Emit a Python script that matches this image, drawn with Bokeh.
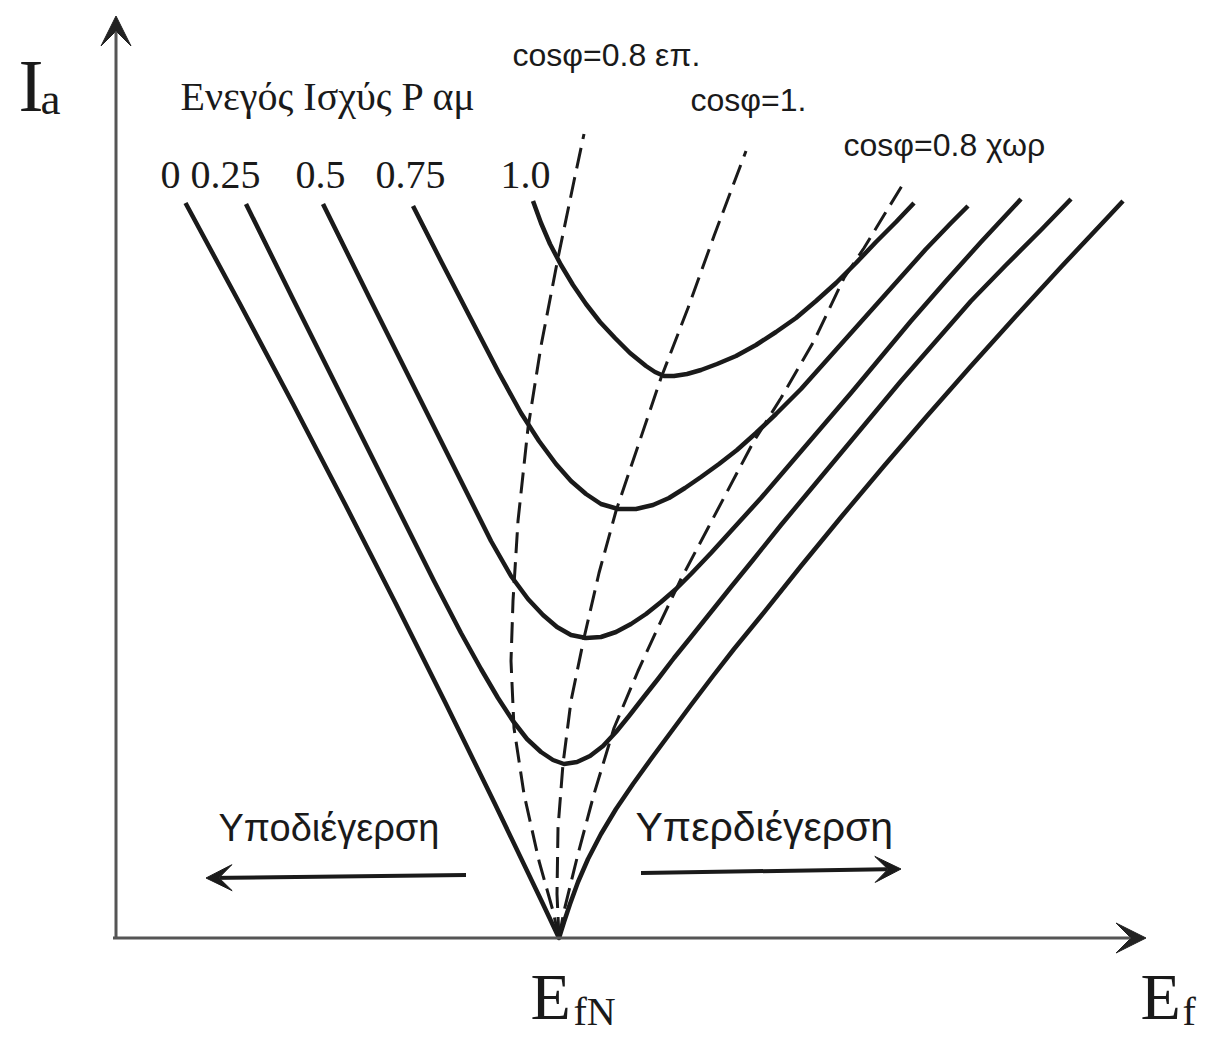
from bokeh.plotting import figure
from bokeh.models import Label, Arrow, VeeHead, Range1d
from bokeh.embed import file_html
from bokeh.resources import INLINE

# ---------------- data (arbitrary units: Ef horizontal, Ia vertical) ----------------
EfN = 44.3

# V-curves: P = 0, 0.25, 0.5, 0.75, 1.0 (p.u.)
p00_x = [6.95, 12.35, 17.65, 22.85, 27.95, 32.95, 37.85, 42.65, 44.3,
         44.8, 45.4, 46.2, 47.2, 48.5, 50.0, 51.7, 53.5, 55.5, 57.5, 59.7, 61.8, 64.5,
         68.5, 72.6, 76.8, 81.1, 85.5, 90.0, 94.6, 99.3, 100.7]
p00_y = [73.5, 63.5, 53.5, 43.5, 33.5, 23.5, 13.5, 3.5, 0.0,
         1.6, 3.4, 5.6, 7.9, 10.4, 12.9, 15.4, 17.9, 20.6, 23.3, 26.2, 28.9, 32.2,
         37.2, 42.2, 47.2, 52.2, 57.2, 62.2, 67.2, 72.2, 73.7]

p25_x = [13.0, 17.7, 22.4, 27.1, 31.8, 34.5, 36.5, 38.2, 39.7, 41.1, 42.5, 43.7, 44.8,
         46.1, 47.4, 48.7, 50.0, 51.3, 52.7, 54.2, 55.8, 57.5, 59.5, 61.5, 63.7, 66.5,
         69.5, 72.5, 75.5, 78.5, 82.0, 85.5, 89.0, 92.5, 95.5]
p25_y = [73.4, 63.9, 54.5, 45.1, 35.7, 30.5, 26.9, 24.0, 21.7, 19.9, 18.6, 17.8, 17.4,
         17.6, 18.2, 19.2, 20.6, 22.2, 24.0, 25.9, 28.0, 30.1, 32.6, 35.1, 37.8, 41.3,
         44.9, 48.5, 52.1, 55.7, 59.7, 63.7, 67.3, 70.8, 73.9]

p50_x = [20.7, 25.4, 30.1, 34.8, 37.5, 39.5, 41.2, 42.7, 44.1, 45.5, 47.0,
         48.5, 50.0, 51.5, 53.0, 54.5, 56.0, 57.5, 59.5, 61.5, 64.5, 67.5, 70.5,
         73.5, 76.5, 79.5, 83.0, 86.5, 90.5]
p50_y = [73.4, 63.9, 54.5, 45.1, 39.7, 36.2, 33.9, 32.3, 31.1, 30.3, 30.0,
         30.1, 30.6, 31.4, 32.4, 33.6, 34.9, 36.4, 38.5, 40.7, 44.0, 47.5, 51.0,
         54.5, 58.1, 61.7, 65.7, 69.6, 73.9]

p75_x = [29.7, 32.6, 35.5, 38.3, 40.5, 42.3, 44.0, 45.5, 47.0, 48.5, 50.2,
         52.0, 53.7, 55.3, 56.9, 58.5, 60.3, 62.1, 64.0, 66.0, 68.5, 71.0, 73.5,
         76.0, 78.5, 81.0, 83.5, 85.2]
p75_y = [73.2, 67.5, 61.9, 56.5, 52.5, 49.7, 47.4, 45.7, 44.4, 43.4, 42.9,
         42.9, 43.3, 44.0, 45.0, 46.1, 47.4, 48.8, 50.5, 52.4, 54.9, 57.7, 60.5,
         63.3, 66.1, 68.9, 71.5, 73.2]

p100_x = [41.7, 42.5, 43.4, 44.5, 45.7, 47.0, 48.4, 49.9, 51.4, 53.0, 53.9, 54.8,
          55.8, 57.1, 58.5, 60.1, 62.0, 64.0, 66.0, 68.0, 70.0, 72.0, 74.0, 76.0, 78.0, 79.8]
p100_y = [73.7, 71.5, 69.4, 67.3, 65.3, 63.4, 61.6, 60.0, 58.5, 57.2, 56.6, 56.2,
          56.2, 56.4, 56.8, 57.4, 58.2, 59.3, 60.6, 62.0, 63.7, 65.5, 67.5, 69.6, 71.6, 73.5]

# constant power-factor loci (dashed)
lead_x = [44.3, 43.7, 42.3, 40.8, 39.8, 39.5, 39.7, 40.2, 41.2, 42.5, 44.2, 45.8, 46.8]
lead_y = [0.0, 2.7, 7.7, 14.4, 21.0, 27.7, 33.7, 41.7, 51.0, 59.2, 68.0, 75.7, 80.4]

unity_x = [44.3, 44.1, 44.2, 44.7, 45.5, 46.8, 48.3, 50.0, 52.2, 54.5, 57.2, 59.8, 63.0]
unity_y = [0.0, 4.4, 11.0, 17.4, 23.7, 30.0, 36.5, 42.7, 49.2, 56.0, 63.0, 70.2, 78.7]

lag_x = [44.3, 44.8, 46.2, 47.8, 49.8, 52.2, 54.5, 56.5, 59.2, 62.2, 63.8, 66.5, 69.8, 72.8, 74.8, 78.7]
lag_y = [0.0, 2.7, 8.4, 14.4, 21.0, 26.7, 31.7, 35.9, 41.0, 46.7, 49.7, 54.0, 59.7, 66.0, 69.0, 75.4]

power_labels = ["0", "0.25", "0.5", "0.75", "1.0"]
power_label_x = [4.45, 7.45, 17.95, 25.95, 38.45]
power_label_y = 76.3

pf_labels = ["cosφ=0.8 επ.", "cosφ=1.", "cosφ=0.8 χωρ"]
pf_label_x = [39.65, 57.45, 72.75]
pf_label_y = [88.3, 83.8, 79.3]

# ---------------- figure ----------------
W, H = 1202, 1035
p = figure(width=W, height=H, output_backend="svg", toolbar_location=None,
           x_range=Range1d(-11.55, 108.65), y_range=Range1d(-9.75, 93.75),
           min_border=0)
p.axis.visible = False
p.grid.visible = False
p.outline_line_color = None
p.background_fill_color = "white"
p.border_fill_color = "white"

axis_col = "#555555"
head_col = "#222222"
p.add_layout(Arrow(end=VeeHead(size=30, fill_color=head_col, line_color=head_col),
                   x_start=0, y_start=0, x_end=0, y_end=92.2,
                   line_color=axis_col, line_width=3))
p.add_layout(Arrow(end=VeeHead(size=30, fill_color=head_col, line_color=head_col),
                   x_start=-0.3, y_start=0, x_end=103.0, y_end=0,
                   line_color=axis_col, line_width=3))

solid = "#1a1a1a"
for xs, ys in [(p00_x, p00_y), (p25_x, p25_y), (p50_x, p50_y), (p75_x, p75_y), (p100_x, p100_y)]:
    p.line(xs, ys, line_color=solid, line_width=4.5, line_join="round", line_cap="butt")

for xs, ys in [(lead_x, lead_y), (unity_x, unity_y), (lag_x, lag_y)]:
    p.line(xs, ys, line_color=solid, line_width=3, line_dash="21 9")

serif = "Liberation Serif"
sans = "Liberation Sans"

def lab(x, y, t, font, size, align="left"):
    p.add_layout(Label(x=x, y=y, text=t, text_font=font, text_font_size=size,
                       text_color="#1a1a1a", text_align=align, text_baseline="alphabetic"))

lab(6.45, 84.2, "Ενεγός Ισχύς P αμ", serif, "40px")
for t, x in zip(power_labels, power_label_x):
    lab(x, power_label_y, t, serif, "40px")
for t, x, y in zip(pf_labels, pf_label_x, pf_label_y):
    lab(x, y, t, sans, "32px")

lab(10.25, 11.0, "Υποδιέγερση", sans, "38px")
lab(51.95, 11.1, "Υπερδιέγερση", sans, "41px")

p.add_layout(Arrow(end=VeeHead(size=26, fill_color=solid, line_color=solid),
                   x_start=35.0, y_start=6.3, x_end=9.0, y_end=6.0,
                   line_color=solid, line_width=4))
p.add_layout(Arrow(end=VeeHead(size=26, fill_color=solid, line_color=solid),
                   x_start=52.5, y_start=6.5, x_end=78.5, y_end=6.9,
                   line_color=solid, line_width=4))

# axis symbols
lab(-9.75, 85.3, "I", serif, "75px")
lab(-7.55, 83.9, "a", serif, "45px")
lab(41.45, -5.81, "E", serif, "66px")
lab(45.75, -7.37, "fN", serif, "40px")
lab(102.45, -5.81, "E", serif, "66px")
lab(106.65, -7.37, "f", serif, "40px")

open("out.html", "w").write(file_html(p, INLINE))
